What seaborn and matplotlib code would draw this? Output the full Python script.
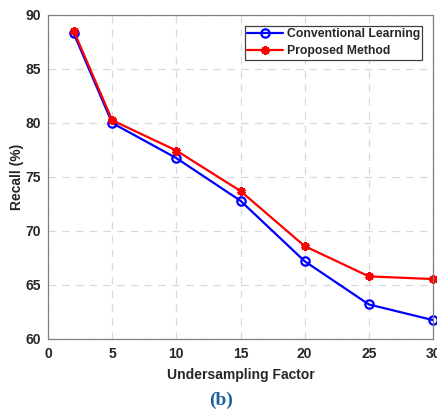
import matplotlib
matplotlib.use("Agg")
import matplotlib.pyplot as plt
import seaborn as sns
import pandas as pd

# Recall versus undersampling factor for the two approaches
factors = [2, 5, 10, 15, 20, 25, 30]
conventional = [88.3, 80.0, 76.75, 72.8, 67.2, 63.2, 61.75]
proposed = [88.55, 80.25, 77.45, 73.7, 68.6, 65.8, 65.55]
series_names = ["Conventional Learning", "Proposed Method"]

df = pd.DataFrame({
    "factor": factors * 2,
    "recall": conventional + proposed,
    "method": [series_names[0]] * len(factors) + [series_names[1]] * len(factors),
})

sns.set_style("white")
plt.rcParams["font.family"] = ["Liberation Sans", "DejaVu Sans"]
plt.rcParams["font.weight"] = "bold"

fig = plt.figure(figsize=(4.37, 4.13), dpi=100)
ax = fig.add_axes([48 / 437, 74 / 413, 385 / 437, 324 / 413])

asterisk = (6, 2, 0)
styles = {
    series_names[0]: dict(color="#0000ff", marker="o", markersize=6,
                          markerfacecolor="none", markeredgecolor="#0000ff",
                          markeredgewidth=1.6),
    series_names[1]: dict(color="#ff0000", marker=asterisk, markersize=6,
                          markerfacecolor="#ff0000", markeredgecolor="#ff0000",
                          markeredgewidth=2.2),
}
for name in series_names:
    sns.lineplot(data=df[df["method"] == name], x="factor", y="recall", ax=ax,
                 linewidth=1.6, clip_on=False, **styles[name])

ax.set_xlim(0, 30)
ax.set_ylim(60, 90)
ax.set_xticks(range(0, 31, 5))
ax.set_yticks(range(60, 91, 5))
ax.grid(True, linestyle=(0, (6, 5)), color="#d9d9d9", linewidth=0.9)
for s in ax.spines.values():
    s.set_color("#808080")
    s.set_linewidth(0.9)
ax.tick_params(axis="both", labelsize=10, colors="#262626", length=0)
ax.tick_params(axis="x", pad=6)
ax.tick_params(axis="y", pad=5)
for lab in ax.get_xticklabels() + ax.get_yticklabels():
    lab.set_fontweight("bold")

ax.set_xlabel("Undersampling Factor", fontsize=10, fontweight="bold", color="#262626", labelpad=5)
ax.set_ylabel("Recall (%)", fontsize=10, fontweight="bold", color="#262626", labelpad=1)

handles = [plt.Line2D([], [], lw=1.6, **styles[n]) for n in series_names]
leg = ax.legend(handles, series_names, loc="upper right", bbox_to_anchor=(0.972, 0.966),
                frameon=True, fancybox=False, borderpad=0.2,
                handlelength=2.9, handletextpad=0.3, labelspacing=0.4,
                borderaxespad=0, prop={"weight": "bold", "size": 8.8})
leg.get_frame().set_edgecolor("#404040")
leg.get_frame().set_linewidth(0.9)
leg.get_frame().set_alpha(1)

fig.text(221 / 437, 1 - 400 / 413, "(b)", ha="center", va="center",
         fontsize=14, fontweight="bold", family="Liberation Serif", color="#1a5fa0")

fig.savefig("out.png", dpi=100)
